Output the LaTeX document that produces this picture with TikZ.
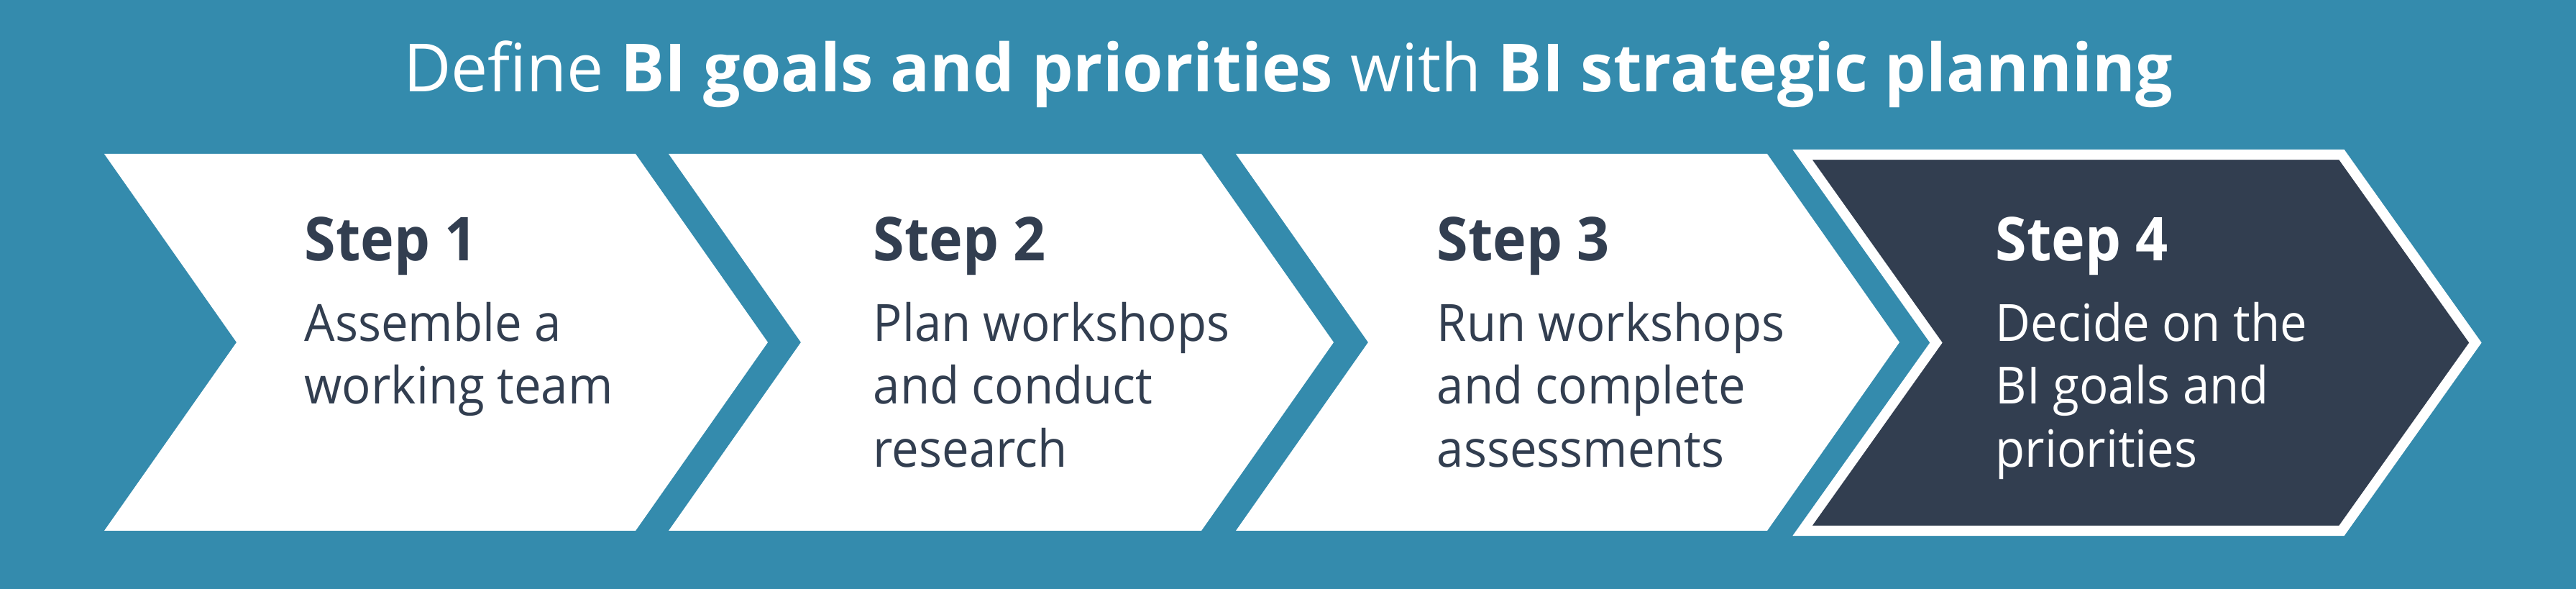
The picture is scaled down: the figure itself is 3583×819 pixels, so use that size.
\documentclass[tikz,border=0pt]{standalone}
\usepackage{fontspec}
\setmainfont{Open Sans}[FakeStretch=0.94]
\newfontfamily\titlefont{Open Sans}[FakeStretch=0.986]
\definecolor{bgteal}{RGB}{52,139,173}
\definecolor{navy}{RGB}{50,62,80}
\tikzset{
  chevwhite/.style={fill=white},
  chevdark/.style={fill=navy, draw=white, line width=4pt, miter limit=10},
  titletext/.style={text=white, inner sep=0pt, font=\titlefont\fontsize{26.3}{30}\selectfont},
  headtext/.style={inner sep=0pt, anchor=base west, font=\fontsize{23.9}{28}\selectfont\bfseries},
  bodytext/.style={inner sep=0pt, anchor=base west, font=\fontsize{20.3}{25}\selectfont},
}
\begin{document}
\begin{tikzpicture}[x=0.01cm,y=-0.01cm]
\fill[bgteal] (0,0) rectangle (3583,819);
\useasboundingbox (0,0) rectangle (3583,819);
% title
\node[titletext, anchor=base] (title) at (1791.5,128) {Define \textbf{BI goals and priorities} with \textbf{BI strategic planning}};
% chevrons
\fill[chevwhite] (145,214) -- (884,214) -- (1068,476) -- (884,738) -- (145,738) -- (329,476) -- cycle;
\fill[chevwhite] (930,214) -- (1671,214) -- (1855,476) -- (1671,738) -- (930,738) -- (1114,476) -- cycle;
\fill[chevwhite] (1719,214) -- (2458,214) -- (2642,476) -- (2458,738) -- (1719,738) -- (1903,476) -- cycle;
\filldraw[chevdark] (2507,215) -- (3257,215) -- (3443,476.5) -- (3257,738) -- (2507,738) -- (2693,476.5) -- cycle;
% step 1
\node[headtext, text=navy] (h1) at (423,363) {Step 1};
\node[bodytext, text=navy] (b1a) at (423,475) {Assemble a};
\node[bodytext, text=navy] (b1b) at (423,562) {working team};
% step 2
\node[headtext, text=navy] (h2) at (1214,363) {Step 2};
\node[bodytext, text=navy] (b2a) at (1214,475) {Plan workshops};
\node[bodytext, text=navy] (b2b) at (1214,562) {and conduct};
\node[bodytext, text=navy] (b2c) at (1214,650) {research};
% step 3
\node[headtext, text=navy] (h3) at (1998,363) {Step 3};
\node[bodytext, text=navy] (b3a) at (1998,475) {Run workshops};
\node[bodytext, text=navy] (b3b) at (1998,562) {and complete};
\node[bodytext, text=navy] (b3c) at (1998,650) {assessments};
% step 4
\node[headtext, text=white] (h4) at (2775,363) {Step 4};
\node[bodytext, text=white] (b4a) at (2775,475) {Decide on the};
\node[bodytext, text=white] (b4b) at (2775,562) {BI goals and};
\node[bodytext, text=white] (b4c) at (2775,650) {priorities};
\end{tikzpicture}
\end{document}
